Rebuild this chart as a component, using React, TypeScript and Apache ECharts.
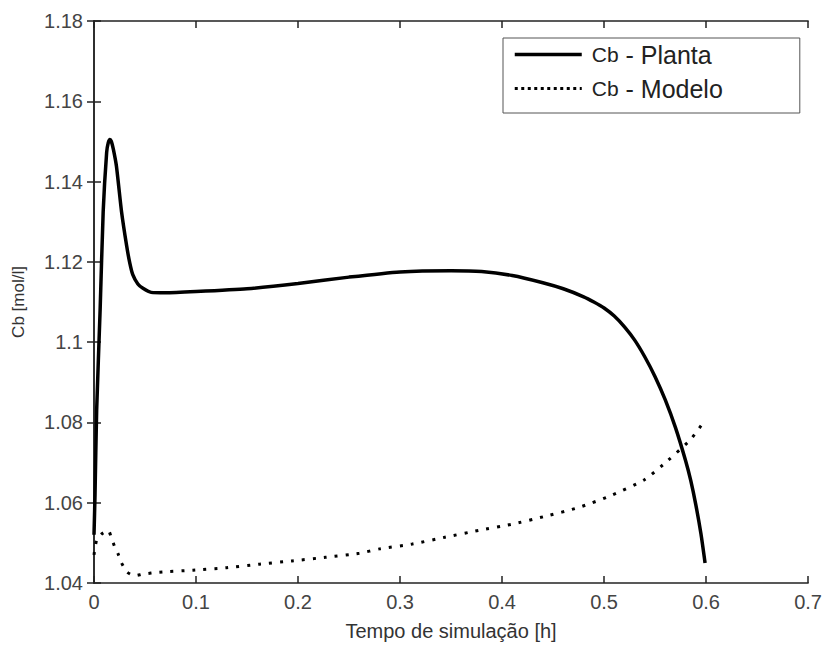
import React, { useEffect, useRef } from "react";
import * as echarts from "echarts";

// Cb - Planta (solid)
const plantaT = [0, 0.001, 0.0026, 0.006, 0.009, 0.0124, 0.014, 0.0156, 0.017, 0.019, 0.022, 0.027, 0.032, 0.035, 0.038, 0.043, 0.048, 0.056, 0.07, 0.1, 0.15, 0.2, 0.25, 0.3, 0.35, 0.38, 0.41, 0.44, 0.46, 0.48, 0.49, 0.5, 0.51, 0.52, 0.53, 0.54, 0.55, 0.56, 0.57, 0.58, 0.585, 0.59, 0.595, 0.599];
const plantaV = [1.052, 1.062, 1.083, 1.108, 1.1325, 1.1473, 1.1497, 1.1505, 1.15, 1.148, 1.1438, 1.1325, 1.124, 1.1198, 1.1168, 1.1145, 1.1134, 1.1124, 1.1123, 1.1126, 1.1133, 1.1146, 1.1162, 1.1175, 1.1178, 1.1176, 1.1166, 1.1148, 1.1133, 1.1113, 1.11, 1.1085, 1.1065, 1.1038, 1.1005, 1.0963, 1.0914, 1.0856, 1.0787, 1.0704, 1.0655, 1.0594, 1.0522, 1.045];

// Cb - Modelo (dotted)
const modeloT = [0, 0.0026, 0.0075, 0.014, 0.0173, 0.0205, 0.0237, 0.027, 0.0325, 0.04, 0.048, 0.064, 0.097, 0.13, 0.162, 0.194, 0.227, 0.26, 0.28, 0.312, 0.344, 0.377, 0.409, 0.442, 0.475, 0.507, 0.54, 0.5625, 0.585, 0.597];
const modeloV = [1.047, 1.0507, 1.0522, 1.0531, 1.051, 1.0489, 1.0472, 1.045, 1.0427, 1.0418, 1.0422, 1.0427, 1.0432, 1.0438, 1.0447, 1.0455, 1.0464, 1.0474, 1.0485, 1.0497, 1.0514, 1.0531, 1.0546, 1.0566, 1.0588, 1.0618, 1.0658, 1.0705, 1.0758, 1.0799];

const seriesNames = ["Cb - Planta", "Cb - Modelo"];
const xLabel = "Tempo de simulação [h]";
const yLabel = "Cb [mol/l]";

export default function App() {
  const ref = useRef<HTMLDivElement>(null);
  useEffect(() => {
    if (!ref.current) return;
    const chart = echarts.init(ref.current, undefined, { renderer: "svg" });
    const font = "Liberation Sans, Arial, sans-serif";
    const axisLine = { show: true, lineStyle: { color: "#222", width: 1.5 } };
    const tick = { show: true, inside: true, length: 7, lineStyle: { color: "#222", width: 1.5 } };
    chart.setOption({
      animation: false,
      backgroundColor: "#fff",
      grid: { left: 94, right: 14, top: 21, bottom: 60 },
      legend: {
        orient: "vertical",
        left: 503,
        top: 38,
        data: [
          { name: seriesNames[0], lineStyle: { width: 3.5, type: "solid" } },
          { name: seriesNames[1], lineStyle: { width: 3, type: [3, 3.5] } },
        ],
        itemWidth: 67,
        itemHeight: 14,
        itemGap: 9,
        padding: [4, 77, 12, 10],
        borderColor: "#555",
        borderWidth: 1,
        itemStyle: { opacity: 0 },
        formatter: (name: string) => {
          const parts = name.split(" - ");
          return "{s|" + parts[0] + "}{b| - " + parts[1] + "}";
        },
        textStyle: {
          fontFamily: font,
          color: "#222",
          lineHeight: 24,
          rich: {
            s: { fontSize: 21, fontFamily: font, color: "#222", lineHeight: 24, padding: [0, 0, 0, 5] },
            b: { fontSize: 25, fontFamily: font, color: "#222", lineHeight: 24 },
          },
        },
      },
      xAxis: [
        {
          type: "value",
          min: 0,
          max: 0.7,
          interval: 0.1,
          name: xLabel,
          nameLocation: "middle",
          nameGap: 38,
          nameTextStyle: { fontFamily: font, fontSize: 20, color: "#333" },
          axisLine,
          axisTick: tick,
          splitLine: { show: false },
          axisLabel: { fontFamily: font, fontSize: 20, color: "#444", margin: 9 },
        },
        {
          type: "value",
          position: "top",
          min: 0,
          max: 0.7,
          interval: 0.1,
          axisLine,
          axisTick: tick,
          splitLine: { show: false },
          axisLabel: { show: false },
        },
      ],
      yAxis: [
        {
          type: "value",
          min: 1.04,
          max: 1.18,
          interval: 0.02,
          name: yLabel,
          nameLocation: "middle",
          nameGap: 67,
          nameTextStyle: { fontFamily: font, fontSize: 17, color: "#333" },
          axisLine,
          axisTick: tick,
          splitLine: { show: false },
          axisLabel: {
            fontFamily: font,
            fontSize: 20,
            color: "#444",
            margin: 11,
            formatter: (v: number) => String(parseFloat(v.toFixed(2))),
          },
        },
        {
          type: "value",
          position: "right",
          min: 1.04,
          max: 1.18,
          interval: 0.02,
          axisLine,
          axisTick: tick,
          splitLine: { show: false },
          axisLabel: { show: false },
        },
      ],
      series: [
        {
          name: seriesNames[0],
          type: "line",
          symbol: "none",
          smooth: 0.2,
          data: plantaT.map((t, i) => [t, plantaV[i]]),
          lineStyle: { color: "#000", width: 3.5 },
          itemStyle: { color: "#000" },
        },
        {
          name: seriesNames[1],
          type: "line",
          symbol: "none",
          smooth: 0.2,
          data: modeloT.map((t, i) => [t, modeloV[i]]),
          lineStyle: { color: "#000", width: 3, type: [3, 8] },
          itemStyle: { color: "#000" },
        },
      ],
    });
    return () => chart.dispose();
  }, []);
  return (
    <div
      ref={ref}
      style={{ position: "fixed", left: 0, top: 0, width: 825, height: 646, background: "#fff" }}
    />
  );
}
